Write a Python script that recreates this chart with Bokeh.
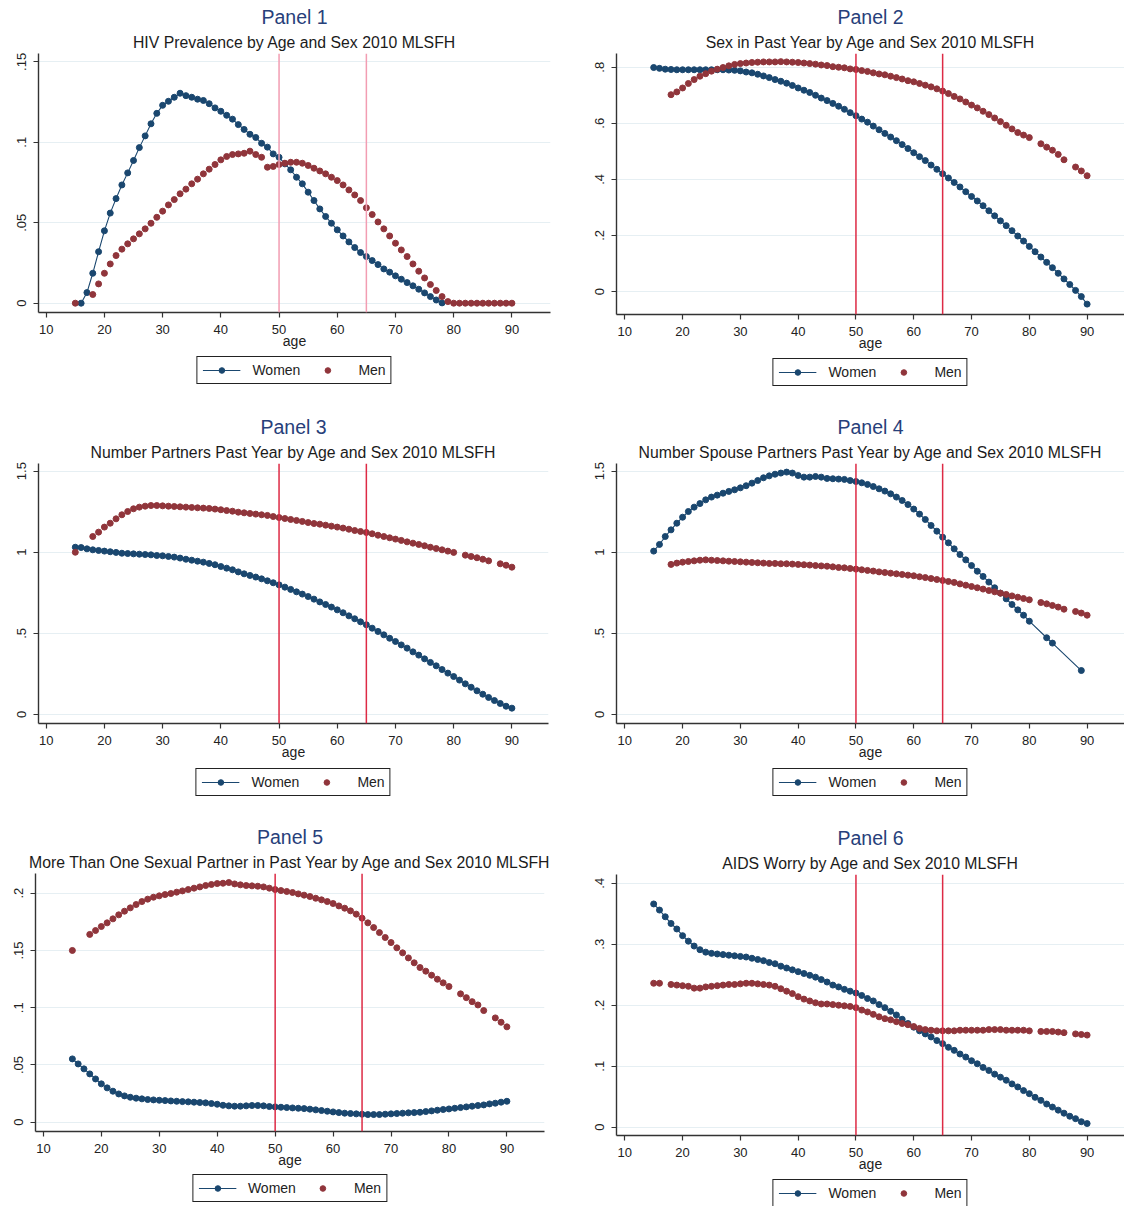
from bokeh.plotting import figure
from bokeh.models import (Range1d, FixedTicker, CustomJSTickFormatter, Span, Title,
                          Legend, LegendItem)
from bokeh.layouts import column, row
from bokeh.embed import file_html
from bokeh.resources import INLINE

NAVY = "#1a476f"
MAROON = "#90353b"
FONT = "Liberation Sans"

x_ticks = [10, 20, 30, 40, 50, 60, 70, 80, 90]
x_tick_labels = ["10", "20", "30", "40", "50", "60", "70", "80", "90"]
ref_ages = [50, 65]
legend_labels = ["Women", "Men"]

GAP_AGES = list(range(18, 81)) + [82, 83, 84, 85, 86, 88, 89, 90]

# ---------------- Panel 1: HIV prevalence ----------------
p1_women_age = list(range(16, 79))
p1_women = [0.0, 0.0066, 0.0186, 0.032, 0.045, 0.056, 0.065, 0.0735, 0.081, 0.0887,
            0.0967, 0.104, 0.1115, 0.118, 0.123, 0.1255, 0.128, 0.1305, 0.129, 0.128,
            0.1268, 0.126, 0.124, 0.1214, 0.1193, 0.1168, 0.1144, 0.111, 0.108, 0.105,
            0.103, 0.0994, 0.097, 0.0928, 0.0907, 0.0866, 0.0829, 0.0783, 0.0742, 0.069,
            0.0638, 0.0586, 0.0539, 0.0497, 0.0456, 0.0418, 0.0381, 0.0346, 0.0315, 0.029,
            0.0265, 0.024, 0.0213, 0.0193, 0.017, 0.0149, 0.0128, 0.0108, 0.0087, 0.0064,
            0.0041, 0.002, 0.0002]
p1_men_age = [15] + list(range(18, 91))
p1_men = [0.0,
          0.0054, 0.012, 0.0186, 0.0244, 0.0296, 0.0336, 0.0369, 0.04, 0.0431, 0.0462,
          0.0497, 0.0534, 0.0572, 0.0611, 0.0644, 0.068, 0.0709, 0.0742, 0.0771, 0.0804,
          0.0833, 0.0862, 0.0891, 0.0912, 0.0924, 0.0928, 0.0932, 0.0945, 0.0924, 0.0907,
          0.0845, 0.085, 0.0862, 0.087, 0.0876, 0.0876, 0.087, 0.0856, 0.0839, 0.0822,
          0.0804, 0.0783, 0.0762, 0.0735, 0.0704, 0.0673, 0.0638, 0.0593, 0.0551, 0.0505,
          0.0462, 0.0418, 0.0373, 0.0331, 0.029, 0.0244, 0.0199, 0.0157, 0.0116, 0.0079,
          0.0041, 0.001, 0.0, 0.0, 0.0, 0.0, 0.0, 0.0, 0.0, 0.0, 0.0, 0.0, 0.0]

# ---------------- Panel 2: sex in past year ----------------
p2_women_age = list(range(15, 91))
p2_women = [0.799, 0.796, 0.793, 0.792, 0.791, 0.791, 0.791, 0.791, 0.791, 0.791,
            0.791, 0.791, 0.791, 0.790, 0.789, 0.787, 0.783, 0.780, 0.775, 0.769,
            0.763, 0.756, 0.750, 0.743, 0.735, 0.726, 0.718, 0.710, 0.700, 0.690,
            0.681, 0.671, 0.661, 0.650, 0.638, 0.627, 0.615, 0.604, 0.590, 0.577,
            0.564, 0.551, 0.538, 0.524, 0.510, 0.495, 0.481, 0.467, 0.451, 0.436,
            0.420, 0.405, 0.389, 0.373, 0.356, 0.339, 0.323, 0.306, 0.288, 0.270,
            0.252, 0.235, 0.217, 0.198, 0.180, 0.161, 0.142, 0.123, 0.104, 0.085,
            0.065, 0.045, 0.025, 0.004, -0.018, -0.045]
p2_men_age = GAP_AGES
p2_men = [0.702, 0.712, 0.726, 0.742, 0.756, 0.768, 0.777, 0.786, 0.793, 0.799,
          0.805, 0.810, 0.813, 0.815, 0.817, 0.818, 0.819, 0.819, 0.819, 0.820,
          0.819, 0.818, 0.817, 0.815, 0.813, 0.811, 0.808, 0.806, 0.802, 0.800,
          0.798, 0.794, 0.792, 0.788, 0.785, 0.780, 0.776, 0.773, 0.768, 0.763,
          0.758, 0.752, 0.748, 0.742, 0.736, 0.730, 0.723, 0.715, 0.706, 0.696,
          0.687, 0.676, 0.665, 0.655, 0.643, 0.631, 0.619, 0.606, 0.593, 0.580,
          0.567, 0.558, 0.549,
          0.527, 0.515, 0.504, 0.489, 0.470, 0.444, 0.430, 0.413]

# ---------------- Panel 3: number of partners ----------------
p3_women_age = list(range(15, 91))
p3_women = [1.031, 1.029, 1.021, 1.015, 1.011, 1.007, 1.003, 0.999, 0.994, 0.992,
            0.990, 0.988, 0.986, 0.984, 0.980, 0.978, 0.974, 0.970, 0.964, 0.957,
            0.951, 0.945, 0.939, 0.931, 0.923, 0.912, 0.902, 0.892, 0.879, 0.867,
            0.857, 0.847, 0.836, 0.824, 0.812, 0.799, 0.785, 0.771, 0.756, 0.742,
            0.727, 0.711, 0.694, 0.678, 0.662, 0.645, 0.627, 0.608, 0.590, 0.571,
            0.553, 0.532, 0.512, 0.491, 0.470, 0.450, 0.429, 0.409, 0.386, 0.366,
            0.343, 0.321, 0.300, 0.277, 0.255, 0.234, 0.212, 0.189, 0.168, 0.146,
            0.125, 0.105, 0.086, 0.068, 0.051, 0.039]
p3_men_age = [15] + GAP_AGES
p3_men = [1.000,
          1.097, 1.124, 1.155, 1.179, 1.206, 1.231, 1.251, 1.268, 1.278, 1.284,
          1.288, 1.288, 1.286, 1.284, 1.282, 1.280, 1.278, 1.276, 1.274, 1.272,
          1.270, 1.266, 1.262, 1.257, 1.253, 1.247, 1.243, 1.239, 1.235, 1.231,
          1.227, 1.220, 1.214, 1.208, 1.202, 1.196, 1.190, 1.183, 1.177, 1.173,
          1.167, 1.161, 1.155, 1.149, 1.142, 1.134, 1.128, 1.122, 1.114, 1.105,
          1.097, 1.089, 1.081, 1.073, 1.064, 1.056, 1.048, 1.040, 1.031, 1.023,
          1.015, 1.007, 0.999,
          0.982, 0.974, 0.966, 0.957, 0.947, 0.929, 0.920, 0.908]

# ---------------- Panel 4: number of spouse partners ----------------
p4_women_age = list(range(15, 81)) + [83, 84, 89]
p4_women = [1.007, 1.048, 1.097, 1.138, 1.179, 1.216, 1.251, 1.278, 1.300, 1.323,
            1.340, 1.352, 1.364, 1.375, 1.385, 1.397, 1.410, 1.426, 1.442, 1.459,
            1.471, 1.481, 1.488, 1.494, 1.488, 1.473, 1.463, 1.463, 1.467, 1.463,
            1.455, 1.453, 1.451, 1.449, 1.442, 1.436, 1.428, 1.418, 1.405, 1.391,
            1.377, 1.360, 1.340, 1.319, 1.294, 1.266, 1.235, 1.202, 1.165, 1.130,
            1.093, 1.058, 1.021, 0.986, 0.953, 0.918, 0.883, 0.851, 0.816, 0.781,
            0.748, 0.713, 0.678, 0.645, 0.612, 0.575,
            0.473, 0.440, 0.271]
p4_men_age = GAP_AGES
p4_men = [0.925, 0.933, 0.939, 0.943, 0.947, 0.951, 0.953, 0.951, 0.949, 0.947,
          0.945, 0.943, 0.941, 0.939, 0.937, 0.935, 0.933, 0.931, 0.931, 0.929,
          0.929, 0.927, 0.925, 0.923, 0.921, 0.918, 0.916, 0.914, 0.910, 0.906,
          0.904, 0.900, 0.896, 0.892, 0.888, 0.884, 0.879, 0.875, 0.871, 0.867,
          0.863, 0.859, 0.855, 0.849, 0.844, 0.838, 0.832, 0.826, 0.820, 0.814,
          0.805, 0.797, 0.789, 0.781, 0.773, 0.764, 0.756, 0.748, 0.740, 0.731,
          0.723, 0.715, 0.707,
          0.690, 0.682, 0.672, 0.662, 0.649, 0.635, 0.625, 0.612]

# ---------------- Panel 5: more than one partner ----------------
p5_women_age = list(range(15, 91))
p5_women = [0.0553, 0.0509, 0.0466, 0.0422, 0.0378, 0.0335, 0.0300, 0.0271, 0.0247, 0.0230,
            0.0218, 0.0210, 0.0204, 0.0198, 0.0195, 0.0192, 0.0189, 0.0186, 0.0183, 0.0180,
            0.0178, 0.0175, 0.0172, 0.0169, 0.0163, 0.0157, 0.0148, 0.0143, 0.0140, 0.0140,
            0.0143, 0.0146, 0.0146, 0.0143, 0.0137, 0.0134, 0.0131, 0.0128, 0.0125, 0.0122,
            0.0119, 0.0114, 0.0108, 0.0102, 0.0096, 0.0090, 0.0084, 0.0079, 0.0076, 0.0073,
            0.0070, 0.0067, 0.0067, 0.0067, 0.0070, 0.0073, 0.0076, 0.0079, 0.0082, 0.0084,
            0.0087, 0.0093, 0.0099, 0.0105, 0.0111, 0.0116, 0.0122, 0.0128, 0.0134, 0.0140,
            0.0146, 0.0151, 0.0160, 0.0166, 0.0175, 0.0183]
p5_men_age = [15] + GAP_AGES
p5_men = [0.150,
          0.1640, 0.1674, 0.1709, 0.1741, 0.1776, 0.1811, 0.1843, 0.1872, 0.1901, 0.1927,
          0.1948, 0.1965, 0.1977, 0.1988, 0.1997, 0.2009, 0.2020, 0.2032, 0.2044, 0.2055,
          0.2067, 0.2076, 0.2084, 0.2087, 0.2093, 0.2081, 0.2073, 0.2067, 0.2064, 0.2061,
          0.2055, 0.2044, 0.2032, 0.2023, 0.2015, 0.2006, 0.1994, 0.1983, 0.1971, 0.1956,
          0.1942, 0.1927, 0.1910, 0.1889, 0.1869, 0.1846, 0.1817, 0.1782, 0.1741, 0.1700,
          0.1656, 0.1613, 0.1569, 0.1523, 0.1479, 0.1435, 0.1392, 0.1351, 0.1319, 0.1284,
          0.1249, 0.1217, 0.1185,
          0.1121, 0.1088, 0.1053, 0.1024, 0.0975, 0.0911, 0.0873, 0.0833]

# ---------------- Panel 6: AIDS worry ----------------
p6_women_age = list(range(15, 91))
p6_women = [0.366, 0.356, 0.345, 0.334, 0.325, 0.314, 0.305, 0.297, 0.291, 0.287,
            0.285, 0.284, 0.283, 0.282, 0.281, 0.280, 0.279, 0.277, 0.275, 0.273,
            0.270, 0.268, 0.264, 0.261, 0.258, 0.255, 0.252, 0.249, 0.246, 0.242,
            0.238, 0.233, 0.230, 0.226, 0.223, 0.220, 0.216, 0.211, 0.207, 0.201,
            0.196, 0.190, 0.184, 0.177, 0.170, 0.164, 0.158, 0.153, 0.148, 0.142,
            0.137, 0.131, 0.126, 0.120, 0.115, 0.109, 0.104, 0.098, 0.093, 0.087,
            0.082, 0.077, 0.071, 0.066, 0.060, 0.055, 0.049, 0.044, 0.038, 0.033,
            0.028, 0.023, 0.018, 0.014, 0.009, 0.006]
p6_men_age = [15, 16] + GAP_AGES
p6_men = [0.236, 0.236,
          0.234, 0.233, 0.232, 0.231, 0.228, 0.228, 0.230, 0.231, 0.232, 0.233,
          0.234, 0.234, 0.235, 0.236, 0.236, 0.235, 0.234, 0.233, 0.231, 0.227,
          0.223, 0.219, 0.214, 0.210, 0.207, 0.204, 0.202, 0.202, 0.201, 0.200,
          0.199, 0.198, 0.196, 0.192, 0.189, 0.185, 0.181, 0.178, 0.176, 0.173,
          0.170, 0.168, 0.165, 0.162, 0.160, 0.159, 0.158, 0.158, 0.158, 0.158,
          0.159, 0.159, 0.159, 0.159, 0.159, 0.160, 0.160, 0.160, 0.159, 0.159,
          0.159, 0.159, 0.158,
          0.157, 0.157, 0.157, 0.156, 0.155, 0.153, 0.152, 0.151]

panels = [
    dict(title="Panel 1", subtitle="HIV Prevalence by Age and Sex 2010 MLSFH",
         wa=p1_women_age, wv=p1_women, ma=p1_men_age, mv=p1_men,
         yt=[0, 0.05, 0.1, 0.15], yl=["0", ".05", ".1", ".15"],
         w=578, h=356, bl=38, br=28, bt=53, bb=44, lh=54, lm=0,
         xr=(8.677, 96.63), yr=(-0.00578, 0.1552), span="#f29db2"),
    dict(title="Panel 2", subtitle="Sex in Past Year by Age and Sex 2010 MLSFH",
         wa=p2_women_age, wv=p2_women, ma=p2_men_age, mv=p2_men,
         yt=[0, 0.2, 0.4, 0.6, 0.8], yl=["0", ".2", ".4", ".6", ".8"],
         w=546, h=356, bl=38, br=0, bt=53, bb=42, lh=54, lm=2,
         xr=(8.564, 96.47), yr=(-0.082, 0.849), span="#dd2a45"),
    dict(title="Panel 3", subtitle="Number Partners Past Year by Age and Sex 2010 MLSFH",
         wa=p3_women_age, wv=p3_women, ma=p3_men_age, mv=p3_men,
         yt=[0, 0.5, 1, 1.5], yl=["0", ".5", "1", "1.5"],
         w=578, h=356, bl=38, br=30, bt=53, bb=43, lh=54, lm=2,
         xr=(8.677, 96.29), yr=(-0.0555, 1.547), span="#dd2a45"),
    dict(title="Panel 4", subtitle="Number Spouse Partners Past Year by Age and Sex 2010 MLSFH",
         wa=p4_women_age, wv=p4_women, ma=p4_men_age, mv=p4_men,
         yt=[0, 0.5, 1, 1.5], yl=["0", ".5", "1", "1.5"],
         w=546, h=356, bl=38, br=0, bt=53, bb=43, lh=54, lm=2,
         xr=(8.564, 96.47), yr=(-0.0555, 1.547), span="#dd2a45"),
    dict(title="Panel 5", subtitle="More Than One Sexual Partner in Past Year by Age and Sex 2010 MLSFH",
         wa=p5_women_age, wv=p5_women, ma=p5_men_age, mv=p5_men,
         yt=[0, 0.05, 0.1, 0.15, 0.2], yl=["0", ".05", ".1", ".15", ".2"],
         w=578, h=354, bl=35, br=34, bt=53, bb=43, lh=32, lm=0,
         xr=(8.636, 96.49), yr=(-0.0081, 0.2172), span="#dd2a45"),
    dict(title="Panel 6", subtitle="AIDS Worry by Age and Sex 2010 MLSFH",
         wa=p6_women_age, wv=p6_women, ma=p6_men_age, mv=p6_men,
         yt=[0, 0.1, 0.2, 0.3, 0.4], yl=["0", ".1", ".2", ".3", ".4"],
         w=546, h=358, bl=38, br=0, bt=54, bb=43, lh=28, lm=1,
         xr=(8.564, 96.47), yr=(-0.0136, 0.4143), span="#dd2a45"),
]


def lookup_formatter(tvals, tlabels):
    return CustomJSTickFormatter(args=dict(tvals=tvals, tlabels=tlabels), code="""
        for (let i = 0; i < tvals.length; i++) {
            if (Math.abs(tvals[i] - tick) < 1e-9) { return tlabels[i]; }
        }
        return "";
    """)


def style_series(fig, xs, ys, women):
    color = NAVY if women else MAROON
    rends = []
    if women:
        rends.append(fig.line(xs, ys, line_color=color, line_width=1.1))
    rends.append(fig.scatter(xs, ys, marker="circle", size=6,
                             fill_color=color, line_color=color))
    return rends


def make_panel(c):
    p = figure(width=c["w"], height=c["h"],
               x_range=Range1d(*c["xr"]), y_range=Range1d(*c["yr"]),
               output_backend="svg", toolbar_location=None,
               min_border_left=c["bl"], min_border_right=c["br"],
               min_border_top=c["bt"], min_border_bottom=c["bb"])
    p.outline_line_color = None
    p.background_fill_color = "white"
    p.border_fill_color = "white"

    p.add_layout(Title(text=c["subtitle"], align="center", text_font=FONT,
                       text_font_size="15.8px", text_font_style="normal",
                       text_color="#1b1b1b", standoff=6), "above")
    p.add_layout(Title(text=c["title"], align="center", text_font=FONT,
                       text_font_size="19.5px", text_font_style="normal",
                       text_color="#27407a", standoff=1), "above")

    p.xaxis.ticker = FixedTicker(ticks=x_ticks)
    p.xaxis.formatter = lookup_formatter(x_ticks, x_tick_labels)
    p.xaxis.axis_label = "age"
    p.yaxis.ticker = FixedTicker(ticks=c["yt"])
    p.yaxis.formatter = lookup_formatter(c["yt"], c["yl"])
    p.yaxis.major_label_orientation = "vertical"
    for ax in (p.xaxis, p.yaxis):
        ax.axis_line_color = "#333333"
        ax.axis_line_width = 1.4
        ax.major_tick_line_color = "#333333"
        ax.major_tick_line_width = 1.2
        ax.major_tick_out = 5
        ax.major_tick_in = 0
        ax.minor_tick_line_color = None
        ax.major_label_text_font = FONT
        ax.major_label_text_font_size = "13px"
        ax.major_label_text_color = "#222222"
    p.xaxis.major_label_standoff = 7
    p.yaxis.major_label_standoff = 7
    p.xaxis.axis_label_text_font = FONT
    p.xaxis.axis_label_text_font_size = "14px"
    p.xaxis.axis_label_text_font_style = "normal"
    p.xaxis.axis_label_text_color = "#222222"
    p.xaxis.axis_label_standoff = -4

    p.xgrid.visible = False
    p.ygrid.ticker = FixedTicker(ticks=c["yt"])
    p.ygrid.grid_line_color = "#e6eff3"
    p.ygrid.grid_line_width = 1

    for a in ref_ages:
        p.add_layout(Span(location=a, dimension="height", line_color=c["span"],
                          line_width=1.5))

    style_series(p, c["wa"], c["wv"], True)
    style_series(p, c["ma"], c["mv"], False)

    # legend strip under the panel: same series, on ranges that keep them out of view,
    # so only the legend box with its swatches is visible
    lf = figure(width=c["w"], height=c["lh"], x_range=Range1d(0, 1), y_range=Range1d(0, 1),
                x_axis_type=None, y_axis_type=None,
                output_backend="svg", toolbar_location=None,
                min_border_left=c["bl"], min_border_right=c["br"],
                min_border_top=0, min_border_bottom=0)
    lf.outline_line_color = None
    lf.background_fill_color = "white"
    lf.border_fill_color = "white"
    lf.xgrid.visible = False
    lf.ygrid.visible = False
    w_rends = style_series(lf, c["wa"], c["wv"], True)
    m_rends = style_series(lf, c["ma"], c["mv"], False)
    leg = Legend(items=[LegendItem(label=legend_labels[0], renderers=w_rends),
                        LegendItem(label=legend_labels[1], renderers=m_rends)],
                 location="top_center", orientation="horizontal",
                 border_line_color="#222222", border_line_width=1.6,
                 border_line_alpha=1.0,
                 background_fill_color="white", background_fill_alpha=1.0,
                 label_text_font=FONT, label_text_font_size="14px",
                 label_text_color="#222222",
                 glyph_width=38, glyph_height=14, label_height=14,
                 label_standoff=12, spacing=8, padding=5, margin=c["lm"])
    lf.add_layout(leg)
    return column(p, lf)


cols = [make_panel(c) for c in panels]
layout = column(row(cols[0], cols[1]), row(cols[2], cols[3]), row(cols[4], cols[5]))

open("out.html", "w").write(file_html(layout, INLINE))
